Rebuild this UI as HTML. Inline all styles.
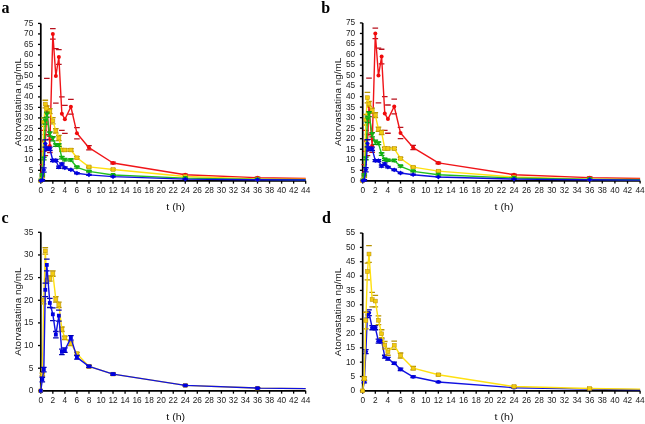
<!DOCTYPE html>
<html><head><meta charset="utf-8"><style>
html,body{margin:0;padding:0;background:#fff;}
svg{display:block;will-change:transform;}
</style></head><body>
<svg width="645" height="424" viewBox="0 0 645 424">
<rect width="645" height="424" fill="#fff"/>
<text x="1.5" y="12.7" font-family="Liberation Serif, serif" font-weight="bold" font-size="16" fill="#000">a</text>
<line x1="38" y1="180.85" x2="40.8" y2="180.85" stroke="#000" stroke-width="1.3"/>
<text x="33.3" y="183.25" text-anchor="end" font-family="Liberation Sans, sans-serif" font-size="8.3" fill="#222">0</text>
<line x1="38" y1="170.35" x2="40.8" y2="170.35" stroke="#000" stroke-width="1.3"/>
<text x="33.3" y="172.75" text-anchor="end" font-family="Liberation Sans, sans-serif" font-size="8.3" fill="#222">5</text>
<line x1="38" y1="159.86" x2="40.8" y2="159.86" stroke="#000" stroke-width="1.3"/>
<text x="33.3" y="162.26" text-anchor="end" font-family="Liberation Sans, sans-serif" font-size="8.3" fill="#222">10</text>
<line x1="38" y1="149.36" x2="40.8" y2="149.36" stroke="#000" stroke-width="1.3"/>
<text x="33.3" y="151.76" text-anchor="end" font-family="Liberation Sans, sans-serif" font-size="8.3" fill="#222">15</text>
<line x1="38" y1="138.87" x2="40.8" y2="138.87" stroke="#000" stroke-width="1.3"/>
<text x="33.3" y="141.27" text-anchor="end" font-family="Liberation Sans, sans-serif" font-size="8.3" fill="#222">20</text>
<line x1="38" y1="128.38" x2="40.8" y2="128.38" stroke="#000" stroke-width="1.3"/>
<text x="33.3" y="130.78" text-anchor="end" font-family="Liberation Sans, sans-serif" font-size="8.3" fill="#222">25</text>
<line x1="38" y1="117.88" x2="40.8" y2="117.88" stroke="#000" stroke-width="1.3"/>
<text x="33.3" y="120.28" text-anchor="end" font-family="Liberation Sans, sans-serif" font-size="8.3" fill="#222">30</text>
<line x1="38" y1="107.38" x2="40.8" y2="107.38" stroke="#000" stroke-width="1.3"/>
<text x="33.3" y="109.78" text-anchor="end" font-family="Liberation Sans, sans-serif" font-size="8.3" fill="#222">35</text>
<line x1="38" y1="96.89" x2="40.8" y2="96.89" stroke="#000" stroke-width="1.3"/>
<text x="33.3" y="99.29" text-anchor="end" font-family="Liberation Sans, sans-serif" font-size="8.3" fill="#222">40</text>
<line x1="38" y1="86.39" x2="40.8" y2="86.39" stroke="#000" stroke-width="1.3"/>
<text x="33.3" y="88.79" text-anchor="end" font-family="Liberation Sans, sans-serif" font-size="8.3" fill="#222">45</text>
<line x1="38" y1="75.9" x2="40.8" y2="75.9" stroke="#000" stroke-width="1.3"/>
<text x="33.3" y="78.3" text-anchor="end" font-family="Liberation Sans, sans-serif" font-size="8.3" fill="#222">50</text>
<line x1="38" y1="65.4" x2="40.8" y2="65.4" stroke="#000" stroke-width="1.3"/>
<text x="33.3" y="67.8" text-anchor="end" font-family="Liberation Sans, sans-serif" font-size="8.3" fill="#222">55</text>
<line x1="38" y1="54.91" x2="40.8" y2="54.91" stroke="#000" stroke-width="1.3"/>
<text x="33.3" y="57.31" text-anchor="end" font-family="Liberation Sans, sans-serif" font-size="8.3" fill="#222">60</text>
<line x1="38" y1="44.41" x2="40.8" y2="44.41" stroke="#000" stroke-width="1.3"/>
<text x="33.3" y="46.81" text-anchor="end" font-family="Liberation Sans, sans-serif" font-size="8.3" fill="#222">65</text>
<line x1="38" y1="33.92" x2="40.8" y2="33.92" stroke="#000" stroke-width="1.3"/>
<text x="33.3" y="36.32" text-anchor="end" font-family="Liberation Sans, sans-serif" font-size="8.3" fill="#222">70</text>
<line x1="38" y1="23.42" x2="40.8" y2="23.42" stroke="#000" stroke-width="1.3"/>
<text x="33.3" y="25.82" text-anchor="end" font-family="Liberation Sans, sans-serif" font-size="8.3" fill="#222">75</text>
<line x1="40.8" y1="180.85" x2="40.8" y2="183.65" stroke="#000" stroke-width="1.3"/>
<text x="40.8" y="193.35" text-anchor="middle" font-family="Liberation Sans, sans-serif" font-size="8.3" fill="#222">0</text>
<line x1="52.84" y1="180.85" x2="52.84" y2="183.65" stroke="#000" stroke-width="1.3"/>
<text x="52.84" y="193.35" text-anchor="middle" font-family="Liberation Sans, sans-serif" font-size="8.3" fill="#222">2</text>
<line x1="64.88" y1="180.85" x2="64.88" y2="183.65" stroke="#000" stroke-width="1.3"/>
<text x="64.88" y="193.35" text-anchor="middle" font-family="Liberation Sans, sans-serif" font-size="8.3" fill="#222">4</text>
<line x1="76.92" y1="180.85" x2="76.92" y2="183.65" stroke="#000" stroke-width="1.3"/>
<text x="76.92" y="193.35" text-anchor="middle" font-family="Liberation Sans, sans-serif" font-size="8.3" fill="#222">6</text>
<line x1="88.96" y1="180.85" x2="88.96" y2="183.65" stroke="#000" stroke-width="1.3"/>
<text x="88.96" y="193.35" text-anchor="middle" font-family="Liberation Sans, sans-serif" font-size="8.3" fill="#222">8</text>
<line x1="101" y1="180.85" x2="101" y2="183.65" stroke="#000" stroke-width="1.3"/>
<text x="101" y="193.35" text-anchor="middle" font-family="Liberation Sans, sans-serif" font-size="8.3" fill="#222">10</text>
<line x1="113.04" y1="180.85" x2="113.04" y2="183.65" stroke="#000" stroke-width="1.3"/>
<text x="113.04" y="193.35" text-anchor="middle" font-family="Liberation Sans, sans-serif" font-size="8.3" fill="#222">12</text>
<line x1="125.08" y1="180.85" x2="125.08" y2="183.65" stroke="#000" stroke-width="1.3"/>
<text x="125.08" y="193.35" text-anchor="middle" font-family="Liberation Sans, sans-serif" font-size="8.3" fill="#222">14</text>
<line x1="137.12" y1="180.85" x2="137.12" y2="183.65" stroke="#000" stroke-width="1.3"/>
<text x="137.12" y="193.35" text-anchor="middle" font-family="Liberation Sans, sans-serif" font-size="8.3" fill="#222">16</text>
<line x1="149.16" y1="180.85" x2="149.16" y2="183.65" stroke="#000" stroke-width="1.3"/>
<text x="149.16" y="193.35" text-anchor="middle" font-family="Liberation Sans, sans-serif" font-size="8.3" fill="#222">18</text>
<line x1="161.2" y1="180.85" x2="161.2" y2="183.65" stroke="#000" stroke-width="1.3"/>
<text x="161.2" y="193.35" text-anchor="middle" font-family="Liberation Sans, sans-serif" font-size="8.3" fill="#222">20</text>
<line x1="173.24" y1="180.85" x2="173.24" y2="183.65" stroke="#000" stroke-width="1.3"/>
<text x="173.24" y="193.35" text-anchor="middle" font-family="Liberation Sans, sans-serif" font-size="8.3" fill="#222">22</text>
<line x1="185.28" y1="180.85" x2="185.28" y2="183.65" stroke="#000" stroke-width="1.3"/>
<text x="185.28" y="193.35" text-anchor="middle" font-family="Liberation Sans, sans-serif" font-size="8.3" fill="#222">24</text>
<line x1="197.32" y1="180.85" x2="197.32" y2="183.65" stroke="#000" stroke-width="1.3"/>
<text x="197.32" y="193.35" text-anchor="middle" font-family="Liberation Sans, sans-serif" font-size="8.3" fill="#222">26</text>
<line x1="209.36" y1="180.85" x2="209.36" y2="183.65" stroke="#000" stroke-width="1.3"/>
<text x="209.36" y="193.35" text-anchor="middle" font-family="Liberation Sans, sans-serif" font-size="8.3" fill="#222">28</text>
<line x1="221.4" y1="180.85" x2="221.4" y2="183.65" stroke="#000" stroke-width="1.3"/>
<text x="221.4" y="193.35" text-anchor="middle" font-family="Liberation Sans, sans-serif" font-size="8.3" fill="#222">30</text>
<line x1="233.44" y1="180.85" x2="233.44" y2="183.65" stroke="#000" stroke-width="1.3"/>
<text x="233.44" y="193.35" text-anchor="middle" font-family="Liberation Sans, sans-serif" font-size="8.3" fill="#222">32</text>
<line x1="245.48" y1="180.85" x2="245.48" y2="183.65" stroke="#000" stroke-width="1.3"/>
<text x="245.48" y="193.35" text-anchor="middle" font-family="Liberation Sans, sans-serif" font-size="8.3" fill="#222">34</text>
<line x1="257.52" y1="180.85" x2="257.52" y2="183.65" stroke="#000" stroke-width="1.3"/>
<text x="257.52" y="193.35" text-anchor="middle" font-family="Liberation Sans, sans-serif" font-size="8.3" fill="#222">36</text>
<line x1="269.56" y1="180.85" x2="269.56" y2="183.65" stroke="#000" stroke-width="1.3"/>
<text x="269.56" y="193.35" text-anchor="middle" font-family="Liberation Sans, sans-serif" font-size="8.3" fill="#222">38</text>
<line x1="281.6" y1="180.85" x2="281.6" y2="183.65" stroke="#000" stroke-width="1.3"/>
<text x="281.6" y="193.35" text-anchor="middle" font-family="Liberation Sans, sans-serif" font-size="8.3" fill="#222">40</text>
<line x1="293.64" y1="180.85" x2="293.64" y2="183.65" stroke="#000" stroke-width="1.3"/>
<text x="293.64" y="193.35" text-anchor="middle" font-family="Liberation Sans, sans-serif" font-size="8.3" fill="#222">42</text>
<line x1="305.68" y1="180.85" x2="305.68" y2="183.65" stroke="#000" stroke-width="1.3"/>
<text x="305.68" y="193.35" text-anchor="middle" font-family="Liberation Sans, sans-serif" font-size="8.3" fill="#222">44</text>
<text transform="translate(20.5,102.14) rotate(-90)" text-anchor="middle" font-family="Liberation Sans, sans-serif" font-size="9.95" fill="#111">Atorvastatina ng/mL</text>
<text transform="translate(175.7,210.25) scale(1.14,1)" text-anchor="middle" font-family="Liberation Sans, sans-serif" font-size="9.3" fill="#111">t (h)</text>
<path d="M40.8 23.42V180.85H305.68" stroke="#000" stroke-width="1.7" fill="none"/>
<path d="M39.51 164.69H45.1M39.51 180.22H45.1" stroke="#b8101c" stroke-width="1.3" fill="none"/>
<path d="M41.01 130.47H46.61M41.01 151.46H46.61" stroke="#b8101c" stroke-width="1.3" fill="none"/>
<path d="M42.52 134.67H48.11M42.52 155.66H48.11" stroke="#b8101c" stroke-width="1.3" fill="none"/>
<path d="M44.02 78.42H49.62M44.02 134.67H49.62" stroke="#b8101c" stroke-width="1.3" fill="none"/>
<path d="M47.03 139.5H52.63M47.03 152.51H52.63" stroke="#b8101c" stroke-width="1.3" fill="none"/>
<path d="M50.04 28.67H55.64M50.04 39.17H55.64" stroke="#b8101c" stroke-width="1.3" fill="none"/>
<path d="M53.05 48.61H58.65M53.05 103.19H58.65" stroke="#b8101c" stroke-width="1.3" fill="none"/>
<path d="M56.06 49.66H61.66M56.06 64.36H61.66" stroke="#b8101c" stroke-width="1.3" fill="none"/>
<path d="M59.07 96.89H64.67M59.07 130.47H64.67" stroke="#b8101c" stroke-width="1.3" fill="none"/>
<path d="M62.08 105.29H67.68M62.08 133.41H67.68" stroke="#b8101c" stroke-width="1.3" fill="none"/>
<path d="M68.1 99.41H73.7M68.1 114.1H73.7" stroke="#b8101c" stroke-width="1.3" fill="none"/>
<path d="M74.12 127.54H79.72M74.12 138.87H79.72" stroke="#b8101c" stroke-width="1.3" fill="none"/>
<path d="M86.16 145.59H91.76M86.16 149.78H91.76" stroke="#b8101c" stroke-width="1.3" fill="none"/>
<path d="M110.24 162.17H115.84M110.24 163.85H115.84" stroke="#b8101c" stroke-width="1.3" fill="none"/>
<path d="M182.48 174.13H188.08M182.48 175.39H188.08" stroke="#b8101c" stroke-width="1.3" fill="none"/>
<path d="M254.72 177.07H260.32M254.72 178.33H260.32" stroke="#b8101c" stroke-width="1.3" fill="none"/>
<path d="M40.8 180.85 L42.3 172.45 L43.81 140.97 L45.31 145.17 L46.82 106.55 L49.83 146.01 L52.84 33.92 L55.85 75.9 L58.86 57.01 L61.87 113.68 L64.88 119.35 L70.9 106.76 L76.92 133.2 L88.96 147.69 L113.04 163.01 L185.28 174.76 L257.52 177.7 L305.68 178.54" stroke="#f01418" stroke-width="1.4" fill="none" stroke-linejoin="round"/>
<circle cx="40.8" cy="180.85" r="2.0" fill="#f00a0a"/>
<circle cx="42.3" cy="172.45" r="2.0" fill="#f00a0a"/>
<circle cx="43.81" cy="140.97" r="2.0" fill="#f00a0a"/>
<circle cx="45.31" cy="145.17" r="2.0" fill="#f00a0a"/>
<circle cx="46.82" cy="106.55" r="2.0" fill="#f00a0a"/>
<circle cx="49.83" cy="146.01" r="2.0" fill="#f00a0a"/>
<circle cx="52.84" cy="33.92" r="2.0" fill="#f00a0a"/>
<circle cx="55.85" cy="75.9" r="2.0" fill="#f00a0a"/>
<circle cx="58.86" cy="57.01" r="2.0" fill="#f00a0a"/>
<circle cx="61.87" cy="113.68" r="2.0" fill="#f00a0a"/>
<circle cx="64.88" cy="119.35" r="2.0" fill="#f00a0a"/>
<circle cx="70.9" cy="106.76" r="2.0" fill="#f00a0a"/>
<circle cx="76.92" cy="133.2" r="2.0" fill="#f00a0a"/>
<circle cx="88.96" cy="147.69" r="2.0" fill="#f00a0a"/>
<circle cx="113.04" cy="163.01" r="2.0" fill="#f00a0a"/>
<circle cx="185.28" cy="174.76" r="2.0" fill="#f00a0a"/>
<circle cx="257.52" cy="177.7" r="2.0" fill="#f00a0a"/>
<path d="M39.51 174.97H45.1M39.51 177.49H45.1" stroke="#b89400" stroke-width="1.3" fill="none"/>
<path d="M41.01 117.88H46.61M41.01 126.28H46.61" stroke="#b89400" stroke-width="1.3" fill="none"/>
<path d="M42.52 100.25H48.11M42.52 107.8H48.11" stroke="#b89400" stroke-width="1.3" fill="none"/>
<path d="M44.02 105.92H49.62M44.02 110.95H49.62" stroke="#b89400" stroke-width="1.3" fill="none"/>
<path d="M47.03 108.64H52.63M47.03 113.68H52.63" stroke="#b89400" stroke-width="1.3" fill="none"/>
<path d="M50.04 117.67H55.64M50.04 123.97H55.64" stroke="#b89400" stroke-width="1.3" fill="none"/>
<path d="M53.05 128.58H58.65M53.05 133.2H58.65" stroke="#b89400" stroke-width="1.3" fill="none"/>
<path d="M56.06 135.41H61.66M56.06 140.65H61.66" stroke="#b89400" stroke-width="1.3" fill="none"/>
<path d="M59.07 148.74H64.67M59.07 151.25H64.67" stroke="#b89400" stroke-width="1.3" fill="none"/>
<path d="M62.08 148.74H67.68M62.08 151.25H67.68" stroke="#b89400" stroke-width="1.3" fill="none"/>
<path d="M68.1 148.74H73.7M68.1 151.25H73.7" stroke="#b89400" stroke-width="1.3" fill="none"/>
<path d="M74.12 156.71H79.72M74.12 158.81H79.72" stroke="#b89400" stroke-width="1.3" fill="none"/>
<path d="M86.16 166.05H91.76M86.16 167.73H91.76" stroke="#b89400" stroke-width="1.3" fill="none"/>
<path d="M110.24 168.89H115.84M110.24 170.15H115.84" stroke="#b89400" stroke-width="1.3" fill="none"/>
<path d="M182.48 176.02H188.08M182.48 176.86H188.08" stroke="#b89400" stroke-width="1.3" fill="none"/>
<path d="M254.72 178.54H260.32M254.72 179.38H260.32" stroke="#b89400" stroke-width="1.3" fill="none"/>
<path d="M40.8 180.85 L42.3 176.23 L43.81 122.08 L45.31 104.03 L46.82 108.43 L49.83 111.16 L52.84 120.82 L55.85 130.89 L58.86 138.03 L61.87 149.99 L64.88 149.99 L70.9 149.99 L76.92 157.76 L88.96 166.89 L113.04 169.52 L185.28 176.44 L257.52 178.96 L305.68 179.17" stroke="#ffe010" stroke-width="1.4" fill="none" stroke-linejoin="round"/>
<rect x="38.8" y="178.95" width="4" height="3.8" fill="#f2cc10" stroke="#b88c00" stroke-width="0.5"/>
<rect x="40.3" y="174.33" width="4" height="3.8" fill="#f2cc10" stroke="#b88c00" stroke-width="0.5"/>
<rect x="41.81" y="120.18" width="4" height="3.8" fill="#f2cc10" stroke="#b88c00" stroke-width="0.5"/>
<rect x="43.31" y="102.13" width="4" height="3.8" fill="#f2cc10" stroke="#b88c00" stroke-width="0.5"/>
<rect x="44.82" y="106.53" width="4" height="3.8" fill="#f2cc10" stroke="#b88c00" stroke-width="0.5"/>
<rect x="47.83" y="109.26" width="4" height="3.8" fill="#f2cc10" stroke="#b88c00" stroke-width="0.5"/>
<rect x="50.84" y="118.92" width="4" height="3.8" fill="#f2cc10" stroke="#b88c00" stroke-width="0.5"/>
<rect x="53.85" y="128.99" width="4" height="3.8" fill="#f2cc10" stroke="#b88c00" stroke-width="0.5"/>
<rect x="56.86" y="136.13" width="4" height="3.8" fill="#f2cc10" stroke="#b88c00" stroke-width="0.5"/>
<rect x="59.87" y="148.09" width="4" height="3.8" fill="#f2cc10" stroke="#b88c00" stroke-width="0.5"/>
<rect x="62.88" y="148.09" width="4" height="3.8" fill="#f2cc10" stroke="#b88c00" stroke-width="0.5"/>
<rect x="68.9" y="148.09" width="4" height="3.8" fill="#f2cc10" stroke="#b88c00" stroke-width="0.5"/>
<rect x="74.92" y="155.86" width="4" height="3.8" fill="#f2cc10" stroke="#b88c00" stroke-width="0.5"/>
<rect x="86.96" y="164.99" width="4" height="3.8" fill="#f2cc10" stroke="#b88c00" stroke-width="0.5"/>
<rect x="111.04" y="167.62" width="4" height="3.8" fill="#f2cc10" stroke="#b88c00" stroke-width="0.5"/>
<rect x="183.28" y="174.54" width="4" height="3.8" fill="#f2cc10" stroke="#b88c00" stroke-width="0.5"/>
<rect x="255.52" y="177.06" width="4" height="3.8" fill="#f2cc10" stroke="#b88c00" stroke-width="0.5"/>
<path d="M39.51 173.92H45.1M39.51 176.02H45.1" stroke="#109010" stroke-width="1.3" fill="none"/>
<path d="M41.01 157.34H46.61M41.01 159.86H46.61" stroke="#109010" stroke-width="1.3" fill="none"/>
<path d="M42.52 117.88H48.11M42.52 124.18H48.11" stroke="#109010" stroke-width="1.3" fill="none"/>
<path d="M44.02 112.21H49.62M44.02 117.25H49.62" stroke="#109010" stroke-width="1.3" fill="none"/>
<path d="M47.03 131.94H52.63M47.03 136.14H52.63" stroke="#109010" stroke-width="1.3" fill="none"/>
<path d="M50.04 136.77H55.64M50.04 140.97H55.64" stroke="#109010" stroke-width="1.3" fill="none"/>
<path d="M53.05 143.91H58.65M53.05 146.43H58.65" stroke="#109010" stroke-width="1.3" fill="none"/>
<path d="M56.06 143.91H61.66M56.06 146.43H61.66" stroke="#109010" stroke-width="1.3" fill="none"/>
<path d="M59.07 156.71H64.67M59.07 158.81H64.67" stroke="#109010" stroke-width="1.3" fill="none"/>
<path d="M62.08 158.81H67.68M62.08 160.91H67.68" stroke="#109010" stroke-width="1.3" fill="none"/>
<path d="M68.1 159.02H73.7M68.1 161.12H73.7" stroke="#109010" stroke-width="1.3" fill="none"/>
<path d="M74.12 166.47H79.72M74.12 168.15H79.72" stroke="#109010" stroke-width="1.3" fill="none"/>
<path d="M86.16 170.77H91.76M86.16 172.03H91.76" stroke="#109010" stroke-width="1.3" fill="none"/>
<path d="M110.24 174.55H115.84M110.24 175.39H115.84" stroke="#109010" stroke-width="1.3" fill="none"/>
<path d="M182.48 177.91H188.08M182.48 178.33H188.08" stroke="#109010" stroke-width="1.3" fill="none"/>
<path d="M254.72 179.17H260.32M254.72 179.59H260.32" stroke="#109010" stroke-width="1.3" fill="none"/>
<path d="M40.8 180.85 L42.3 174.97 L43.81 158.6 L45.31 121.03 L46.82 114.73 L49.83 134.04 L52.84 138.87 L55.85 145.17 L58.86 145.17 L61.87 157.76 L64.88 159.86 L70.9 160.07 L76.92 167.31 L88.96 171.4 L113.04 174.97 L185.28 178.12 L257.52 179.38 L305.68 179.8" stroke="#20c020" stroke-width="1.4" fill="none" stroke-linejoin="round"/>
<path d="M38.2 178.85H43.4L40.8 183.25Z" fill="#10b010"/>
<path d="M39.7 172.97H44.91L42.3 177.37Z" fill="#10b010"/>
<path d="M41.21 156.6H46.41L43.81 161Z" fill="#10b010"/>
<path d="M42.71 119.03H47.91L45.31 123.43Z" fill="#10b010"/>
<path d="M44.22 112.73H49.42L46.82 117.13Z" fill="#10b010"/>
<path d="M47.23 132.04H52.43L49.83 136.44Z" fill="#10b010"/>
<path d="M50.24 136.87H55.44L52.84 141.27Z" fill="#10b010"/>
<path d="M53.25 143.17H58.45L55.85 147.57Z" fill="#10b010"/>
<path d="M56.26 143.17H61.46L58.86 147.57Z" fill="#10b010"/>
<path d="M59.27 155.76H64.47L61.87 160.16Z" fill="#10b010"/>
<path d="M62.28 157.86H67.48L64.88 162.26Z" fill="#10b010"/>
<path d="M68.3 158.07H73.5L70.9 162.47Z" fill="#10b010"/>
<path d="M74.32 165.31H79.52L76.92 169.71Z" fill="#10b010"/>
<path d="M86.36 169.4H91.56L88.96 173.8Z" fill="#10b010"/>
<path d="M110.44 172.97H115.64L113.04 177.37Z" fill="#10b010"/>
<path d="M182.68 176.12H187.88L185.28 180.52Z" fill="#10b010"/>
<path d="M254.92 177.38H260.12L257.52 181.78Z" fill="#10b010"/>
<path d="M39.51 179.59H45.1M39.51 180.85H45.1" stroke="#0000b0" stroke-width="1.3" fill="none"/>
<path d="M41.01 167.84H46.61M41.01 172.03H46.61" stroke="#0000b0" stroke-width="1.3" fill="none"/>
<path d="M42.52 139.92H48.11M42.52 147.06H48.11" stroke="#0000b0" stroke-width="1.3" fill="none"/>
<path d="M44.02 147.06H49.62M44.02 150.41H49.62" stroke="#0000b0" stroke-width="1.3" fill="none"/>
<path d="M47.03 147.06H52.63M47.03 150.41H52.63" stroke="#0000b0" stroke-width="1.3" fill="none"/>
<path d="M50.04 159.44H55.64M50.04 161.54H55.64" stroke="#0000b0" stroke-width="1.3" fill="none"/>
<path d="M53.05 159.44H58.65M53.05 161.54H58.65" stroke="#0000b0" stroke-width="1.3" fill="none"/>
<path d="M56.06 166.16H61.66M56.06 168.26H61.66" stroke="#0000b0" stroke-width="1.3" fill="none"/>
<path d="M59.07 163.01H64.67M59.07 165.11H64.67" stroke="#0000b0" stroke-width="1.3" fill="none"/>
<path d="M62.08 167H67.68M62.08 168.68H67.68" stroke="#0000b0" stroke-width="1.3" fill="none"/>
<path d="M68.1 169.1H73.7M68.1 170.35H73.7" stroke="#0000b0" stroke-width="1.3" fill="none"/>
<path d="M74.12 172.56H79.72M74.12 173.82H79.72" stroke="#0000b0" stroke-width="1.3" fill="none"/>
<path d="M86.16 174.45H91.76M86.16 175.29H91.76" stroke="#0000b0" stroke-width="1.3" fill="none"/>
<path d="M110.24 176.44H115.84M110.24 176.86H115.84" stroke="#0000b0" stroke-width="1.3" fill="none"/>
<path d="M182.48 178.96H188.08M182.48 179.38H188.08" stroke="#0000b0" stroke-width="1.3" fill="none"/>
<path d="M254.72 179.49H260.32M254.72 179.91H260.32" stroke="#0000b0" stroke-width="1.3" fill="none"/>
<path d="M40.8 180.85 L42.3 180.22 L43.81 169.94 L45.31 143.49 L46.82 148.74 L49.83 148.74 L52.84 160.49 L55.85 160.49 L58.86 167.21 L61.87 164.06 L64.88 167.84 L70.9 169.73 L76.92 173.19 L88.96 174.87 L113.04 176.65 L185.28 179.17 L257.52 179.7 L305.68 180.01" stroke="#1010e0" stroke-width="1.4" fill="none" stroke-linejoin="round"/>
<path d="M40.8 178.45L43.2 180.85L40.8 183.25L38.4 180.85Z" fill="#0000e0"/>
<path d="M42.3 177.82L44.7 180.22L42.3 182.62L39.91 180.22Z" fill="#0000e0"/>
<path d="M43.81 167.54L46.21 169.94L43.81 172.34L41.41 169.94Z" fill="#0000e0"/>
<path d="M45.31 141.09L47.71 143.49L45.31 145.89L42.91 143.49Z" fill="#0000e0"/>
<path d="M46.82 146.34L49.22 148.74L46.82 151.14L44.42 148.74Z" fill="#0000e0"/>
<path d="M49.83 146.34L52.23 148.74L49.83 151.14L47.43 148.74Z" fill="#0000e0"/>
<path d="M52.84 158.09L55.24 160.49L52.84 162.89L50.44 160.49Z" fill="#0000e0"/>
<path d="M55.85 158.09L58.25 160.49L55.85 162.89L53.45 160.49Z" fill="#0000e0"/>
<path d="M58.86 164.81L61.26 167.21L58.86 169.61L56.46 167.21Z" fill="#0000e0"/>
<path d="M61.87 161.66L64.27 164.06L61.87 166.46L59.47 164.06Z" fill="#0000e0"/>
<path d="M64.88 165.44L67.28 167.84L64.88 170.24L62.48 167.84Z" fill="#0000e0"/>
<path d="M70.9 167.33L73.3 169.73L70.9 172.13L68.5 169.73Z" fill="#0000e0"/>
<path d="M76.92 170.79L79.32 173.19L76.92 175.59L74.52 173.19Z" fill="#0000e0"/>
<path d="M88.96 172.47L91.36 174.87L88.96 177.27L86.56 174.87Z" fill="#0000e0"/>
<path d="M113.04 174.25L115.44 176.65L113.04 179.05L110.64 176.65Z" fill="#0000e0"/>
<path d="M185.28 176.77L187.68 179.17L185.28 181.57L182.88 179.17Z" fill="#0000e0"/>
<path d="M257.52 177.3L259.92 179.7L257.52 182.1L255.12 179.7Z" fill="#0000e0"/>
<text x="321.3" y="12.9" font-family="Liberation Serif, serif" font-weight="bold" font-size="16" fill="#000">b</text>
<line x1="359.9" y1="180.8" x2="362.7" y2="180.8" stroke="#000" stroke-width="1.3"/>
<text x="355.2" y="183.2" text-anchor="end" font-family="Liberation Sans, sans-serif" font-size="8.3" fill="#222">0</text>
<line x1="359.9" y1="170.28" x2="362.7" y2="170.28" stroke="#000" stroke-width="1.3"/>
<text x="355.2" y="172.68" text-anchor="end" font-family="Liberation Sans, sans-serif" font-size="8.3" fill="#222">5</text>
<line x1="359.9" y1="159.75" x2="362.7" y2="159.75" stroke="#000" stroke-width="1.3"/>
<text x="355.2" y="162.15" text-anchor="end" font-family="Liberation Sans, sans-serif" font-size="8.3" fill="#222">10</text>
<line x1="359.9" y1="149.23" x2="362.7" y2="149.23" stroke="#000" stroke-width="1.3"/>
<text x="355.2" y="151.63" text-anchor="end" font-family="Liberation Sans, sans-serif" font-size="8.3" fill="#222">15</text>
<line x1="359.9" y1="138.7" x2="362.7" y2="138.7" stroke="#000" stroke-width="1.3"/>
<text x="355.2" y="141.1" text-anchor="end" font-family="Liberation Sans, sans-serif" font-size="8.3" fill="#222">20</text>
<line x1="359.9" y1="128.18" x2="362.7" y2="128.18" stroke="#000" stroke-width="1.3"/>
<text x="355.2" y="130.58" text-anchor="end" font-family="Liberation Sans, sans-serif" font-size="8.3" fill="#222">25</text>
<line x1="359.9" y1="117.65" x2="362.7" y2="117.65" stroke="#000" stroke-width="1.3"/>
<text x="355.2" y="120.05" text-anchor="end" font-family="Liberation Sans, sans-serif" font-size="8.3" fill="#222">30</text>
<line x1="359.9" y1="107.13" x2="362.7" y2="107.13" stroke="#000" stroke-width="1.3"/>
<text x="355.2" y="109.53" text-anchor="end" font-family="Liberation Sans, sans-serif" font-size="8.3" fill="#222">35</text>
<line x1="359.9" y1="96.6" x2="362.7" y2="96.6" stroke="#000" stroke-width="1.3"/>
<text x="355.2" y="99" text-anchor="end" font-family="Liberation Sans, sans-serif" font-size="8.3" fill="#222">40</text>
<line x1="359.9" y1="86.08" x2="362.7" y2="86.08" stroke="#000" stroke-width="1.3"/>
<text x="355.2" y="88.48" text-anchor="end" font-family="Liberation Sans, sans-serif" font-size="8.3" fill="#222">45</text>
<line x1="359.9" y1="75.55" x2="362.7" y2="75.55" stroke="#000" stroke-width="1.3"/>
<text x="355.2" y="77.95" text-anchor="end" font-family="Liberation Sans, sans-serif" font-size="8.3" fill="#222">50</text>
<line x1="359.9" y1="65.03" x2="362.7" y2="65.03" stroke="#000" stroke-width="1.3"/>
<text x="355.2" y="67.43" text-anchor="end" font-family="Liberation Sans, sans-serif" font-size="8.3" fill="#222">55</text>
<line x1="359.9" y1="54.5" x2="362.7" y2="54.5" stroke="#000" stroke-width="1.3"/>
<text x="355.2" y="56.9" text-anchor="end" font-family="Liberation Sans, sans-serif" font-size="8.3" fill="#222">60</text>
<line x1="359.9" y1="43.98" x2="362.7" y2="43.98" stroke="#000" stroke-width="1.3"/>
<text x="355.2" y="46.38" text-anchor="end" font-family="Liberation Sans, sans-serif" font-size="8.3" fill="#222">65</text>
<line x1="359.9" y1="33.45" x2="362.7" y2="33.45" stroke="#000" stroke-width="1.3"/>
<text x="355.2" y="35.85" text-anchor="end" font-family="Liberation Sans, sans-serif" font-size="8.3" fill="#222">70</text>
<line x1="359.9" y1="22.93" x2="362.7" y2="22.93" stroke="#000" stroke-width="1.3"/>
<text x="355.2" y="25.33" text-anchor="end" font-family="Liberation Sans, sans-serif" font-size="8.3" fill="#222">75</text>
<line x1="362.7" y1="180.8" x2="362.7" y2="183.6" stroke="#000" stroke-width="1.3"/>
<text x="362.7" y="193.3" text-anchor="middle" font-family="Liberation Sans, sans-serif" font-size="8.3" fill="#222">0</text>
<line x1="375.31" y1="180.8" x2="375.31" y2="183.6" stroke="#000" stroke-width="1.3"/>
<text x="375.31" y="193.3" text-anchor="middle" font-family="Liberation Sans, sans-serif" font-size="8.3" fill="#222">2</text>
<line x1="387.92" y1="180.8" x2="387.92" y2="183.6" stroke="#000" stroke-width="1.3"/>
<text x="387.92" y="193.3" text-anchor="middle" font-family="Liberation Sans, sans-serif" font-size="8.3" fill="#222">4</text>
<line x1="400.53" y1="180.8" x2="400.53" y2="183.6" stroke="#000" stroke-width="1.3"/>
<text x="400.53" y="193.3" text-anchor="middle" font-family="Liberation Sans, sans-serif" font-size="8.3" fill="#222">6</text>
<line x1="413.14" y1="180.8" x2="413.14" y2="183.6" stroke="#000" stroke-width="1.3"/>
<text x="413.14" y="193.3" text-anchor="middle" font-family="Liberation Sans, sans-serif" font-size="8.3" fill="#222">8</text>
<line x1="425.75" y1="180.8" x2="425.75" y2="183.6" stroke="#000" stroke-width="1.3"/>
<text x="425.75" y="193.3" text-anchor="middle" font-family="Liberation Sans, sans-serif" font-size="8.3" fill="#222">10</text>
<line x1="438.36" y1="180.8" x2="438.36" y2="183.6" stroke="#000" stroke-width="1.3"/>
<text x="438.36" y="193.3" text-anchor="middle" font-family="Liberation Sans, sans-serif" font-size="8.3" fill="#222">12</text>
<line x1="450.97" y1="180.8" x2="450.97" y2="183.6" stroke="#000" stroke-width="1.3"/>
<text x="450.97" y="193.3" text-anchor="middle" font-family="Liberation Sans, sans-serif" font-size="8.3" fill="#222">14</text>
<line x1="463.58" y1="180.8" x2="463.58" y2="183.6" stroke="#000" stroke-width="1.3"/>
<text x="463.58" y="193.3" text-anchor="middle" font-family="Liberation Sans, sans-serif" font-size="8.3" fill="#222">16</text>
<line x1="476.19" y1="180.8" x2="476.19" y2="183.6" stroke="#000" stroke-width="1.3"/>
<text x="476.19" y="193.3" text-anchor="middle" font-family="Liberation Sans, sans-serif" font-size="8.3" fill="#222">18</text>
<line x1="488.8" y1="180.8" x2="488.8" y2="183.6" stroke="#000" stroke-width="1.3"/>
<text x="488.8" y="193.3" text-anchor="middle" font-family="Liberation Sans, sans-serif" font-size="8.3" fill="#222">20</text>
<line x1="501.41" y1="180.8" x2="501.41" y2="183.6" stroke="#000" stroke-width="1.3"/>
<text x="501.41" y="193.3" text-anchor="middle" font-family="Liberation Sans, sans-serif" font-size="8.3" fill="#222">22</text>
<line x1="514.02" y1="180.8" x2="514.02" y2="183.6" stroke="#000" stroke-width="1.3"/>
<text x="514.02" y="193.3" text-anchor="middle" font-family="Liberation Sans, sans-serif" font-size="8.3" fill="#222">24</text>
<line x1="526.63" y1="180.8" x2="526.63" y2="183.6" stroke="#000" stroke-width="1.3"/>
<text x="526.63" y="193.3" text-anchor="middle" font-family="Liberation Sans, sans-serif" font-size="8.3" fill="#222">26</text>
<line x1="539.24" y1="180.8" x2="539.24" y2="183.6" stroke="#000" stroke-width="1.3"/>
<text x="539.24" y="193.3" text-anchor="middle" font-family="Liberation Sans, sans-serif" font-size="8.3" fill="#222">28</text>
<line x1="551.85" y1="180.8" x2="551.85" y2="183.6" stroke="#000" stroke-width="1.3"/>
<text x="551.85" y="193.3" text-anchor="middle" font-family="Liberation Sans, sans-serif" font-size="8.3" fill="#222">30</text>
<line x1="564.46" y1="180.8" x2="564.46" y2="183.6" stroke="#000" stroke-width="1.3"/>
<text x="564.46" y="193.3" text-anchor="middle" font-family="Liberation Sans, sans-serif" font-size="8.3" fill="#222">32</text>
<line x1="577.07" y1="180.8" x2="577.07" y2="183.6" stroke="#000" stroke-width="1.3"/>
<text x="577.07" y="193.3" text-anchor="middle" font-family="Liberation Sans, sans-serif" font-size="8.3" fill="#222">34</text>
<line x1="589.68" y1="180.8" x2="589.68" y2="183.6" stroke="#000" stroke-width="1.3"/>
<text x="589.68" y="193.3" text-anchor="middle" font-family="Liberation Sans, sans-serif" font-size="8.3" fill="#222">36</text>
<line x1="602.29" y1="180.8" x2="602.29" y2="183.6" stroke="#000" stroke-width="1.3"/>
<text x="602.29" y="193.3" text-anchor="middle" font-family="Liberation Sans, sans-serif" font-size="8.3" fill="#222">38</text>
<line x1="614.9" y1="180.8" x2="614.9" y2="183.6" stroke="#000" stroke-width="1.3"/>
<text x="614.9" y="193.3" text-anchor="middle" font-family="Liberation Sans, sans-serif" font-size="8.3" fill="#222">40</text>
<line x1="627.51" y1="180.8" x2="627.51" y2="183.6" stroke="#000" stroke-width="1.3"/>
<text x="627.51" y="193.3" text-anchor="middle" font-family="Liberation Sans, sans-serif" font-size="8.3" fill="#222">42</text>
<line x1="640.12" y1="180.8" x2="640.12" y2="183.6" stroke="#000" stroke-width="1.3"/>
<text x="640.12" y="193.3" text-anchor="middle" font-family="Liberation Sans, sans-serif" font-size="8.3" fill="#222">44</text>
<text transform="translate(341.3,101.86) rotate(-90)" text-anchor="middle" font-family="Liberation Sans, sans-serif" font-size="9.95" fill="#111">Atorvastatina ng/mL</text>
<text transform="translate(504,210.2) scale(1.14,1)" text-anchor="middle" font-family="Liberation Sans, sans-serif" font-size="9.3" fill="#111">t (h)</text>
<path d="M362.7 22.93V180.8H640.12" stroke="#000" stroke-width="1.7" fill="none"/>
<path d="M361.48 164.59H367.08M361.48 180.17H367.08" stroke="#b8101c" stroke-width="1.3" fill="none"/>
<path d="M363.05 130.28H368.65M363.05 151.33H368.65" stroke="#b8101c" stroke-width="1.3" fill="none"/>
<path d="M364.63 134.49H370.23M364.63 155.54H370.23" stroke="#b8101c" stroke-width="1.3" fill="none"/>
<path d="M366.2 78.08H371.81M366.2 134.49H371.81" stroke="#b8101c" stroke-width="1.3" fill="none"/>
<path d="M369.36 139.33H374.96M369.36 152.38H374.96" stroke="#b8101c" stroke-width="1.3" fill="none"/>
<path d="M372.51 28.19H378.11M372.51 38.71H378.11" stroke="#b8101c" stroke-width="1.3" fill="none"/>
<path d="M375.66 48.19H381.26M375.66 102.92H381.26" stroke="#b8101c" stroke-width="1.3" fill="none"/>
<path d="M378.81 49.24H384.42M378.81 63.97H384.42" stroke="#b8101c" stroke-width="1.3" fill="none"/>
<path d="M381.97 96.6H387.57M381.97 130.28H387.57" stroke="#b8101c" stroke-width="1.3" fill="none"/>
<path d="M385.12 105.02H390.72M385.12 133.23H390.72" stroke="#b8101c" stroke-width="1.3" fill="none"/>
<path d="M391.42 99.13H397.02M391.42 113.86H397.02" stroke="#b8101c" stroke-width="1.3" fill="none"/>
<path d="M397.73 127.33H403.33M397.73 138.7H403.33" stroke="#b8101c" stroke-width="1.3" fill="none"/>
<path d="M410.34 145.44H415.94M410.34 149.65H415.94" stroke="#b8101c" stroke-width="1.3" fill="none"/>
<path d="M435.56 162.07H441.16M435.56 163.75H441.16" stroke="#b8101c" stroke-width="1.3" fill="none"/>
<path d="M511.22 174.06H516.82M511.22 175.33H516.82" stroke="#b8101c" stroke-width="1.3" fill="none"/>
<path d="M586.88 177.01H592.48M586.88 178.27H592.48" stroke="#b8101c" stroke-width="1.3" fill="none"/>
<path d="M362.7 180.8 L364.28 172.38 L365.85 140.81 L367.43 145.02 L369 106.28 L372.16 145.86 L375.31 33.45 L378.46 75.55 L381.62 56.61 L384.77 113.44 L387.92 119.12 L394.22 106.49 L400.53 133.02 L413.14 147.54 L438.36 162.91 L514.02 174.7 L589.68 177.64 L640.12 178.48" stroke="#f01418" stroke-width="1.4" fill="none" stroke-linejoin="round"/>
<circle cx="362.7" cy="180.8" r="2.0" fill="#f00a0a"/>
<circle cx="364.28" cy="172.38" r="2.0" fill="#f00a0a"/>
<circle cx="365.85" cy="140.81" r="2.0" fill="#f00a0a"/>
<circle cx="367.43" cy="145.02" r="2.0" fill="#f00a0a"/>
<circle cx="369" cy="106.28" r="2.0" fill="#f00a0a"/>
<circle cx="372.16" cy="145.86" r="2.0" fill="#f00a0a"/>
<circle cx="375.31" cy="33.45" r="2.0" fill="#f00a0a"/>
<circle cx="378.46" cy="75.55" r="2.0" fill="#f00a0a"/>
<circle cx="381.62" cy="56.61" r="2.0" fill="#f00a0a"/>
<circle cx="384.77" cy="113.44" r="2.0" fill="#f00a0a"/>
<circle cx="387.92" cy="119.12" r="2.0" fill="#f00a0a"/>
<circle cx="394.22" cy="106.49" r="2.0" fill="#f00a0a"/>
<circle cx="400.53" cy="133.02" r="2.0" fill="#f00a0a"/>
<circle cx="413.14" cy="147.54" r="2.0" fill="#f00a0a"/>
<circle cx="438.36" cy="162.91" r="2.0" fill="#f00a0a"/>
<circle cx="514.02" cy="174.7" r="2.0" fill="#f00a0a"/>
<circle cx="589.68" cy="177.64" r="2.0" fill="#f00a0a"/>
<path d="M361.48 174.91H367.08M361.48 177.43H367.08" stroke="#b89400" stroke-width="1.3" fill="none"/>
<path d="M363.05 114.49H368.65M363.05 125.02H368.65" stroke="#b89400" stroke-width="1.3" fill="none"/>
<path d="M364.63 92.39H370.23M364.63 102.92H370.23" stroke="#b89400" stroke-width="1.3" fill="none"/>
<path d="M366.2 101.44H371.81M366.2 106.49H371.81" stroke="#b89400" stroke-width="1.3" fill="none"/>
<path d="M369.36 108.18H374.96M369.36 113.23H374.96" stroke="#b89400" stroke-width="1.3" fill="none"/>
<path d="M372.51 112.6H378.11M372.51 117.65H378.11" stroke="#b89400" stroke-width="1.3" fill="none"/>
<path d="M375.66 127.12H381.26M375.66 131.33H381.26" stroke="#b89400" stroke-width="1.3" fill="none"/>
<path d="M378.81 130.28H384.42M378.81 134.49H384.42" stroke="#b89400" stroke-width="1.3" fill="none"/>
<path d="M381.97 147.33H387.57M381.97 149.86H387.57" stroke="#b89400" stroke-width="1.3" fill="none"/>
<path d="M385.12 147.33H390.72M385.12 149.86H390.72" stroke="#b89400" stroke-width="1.3" fill="none"/>
<path d="M391.42 147.33H397.02M391.42 149.86H397.02" stroke="#b89400" stroke-width="1.3" fill="none"/>
<path d="M397.73 157.43H403.33M397.73 159.54H403.33" stroke="#b89400" stroke-width="1.3" fill="none"/>
<path d="M410.34 166.28H415.94M410.34 167.96H415.94" stroke="#b89400" stroke-width="1.3" fill="none"/>
<path d="M435.56 170.49H441.16M435.56 171.75H441.16" stroke="#b89400" stroke-width="1.3" fill="none"/>
<path d="M511.22 176.59H516.82M511.22 177.43H516.82" stroke="#b89400" stroke-width="1.3" fill="none"/>
<path d="M586.88 178.7H592.48M586.88 179.54H592.48" stroke="#b89400" stroke-width="1.3" fill="none"/>
<path d="M362.7 180.8 L364.28 176.17 L365.85 119.76 L367.43 97.65 L369 103.97 L372.16 110.7 L375.31 115.12 L378.46 129.23 L381.62 132.39 L384.77 148.59 L387.92 148.59 L394.22 148.59 L400.53 158.49 L413.14 167.12 L438.36 171.12 L514.02 177.01 L589.68 179.12 L640.12 179.54" stroke="#ffe010" stroke-width="1.4" fill="none" stroke-linejoin="round"/>
<rect x="360.7" y="178.9" width="4" height="3.8" fill="#f2cc10" stroke="#b88c00" stroke-width="0.5"/>
<rect x="362.28" y="174.27" width="4" height="3.8" fill="#f2cc10" stroke="#b88c00" stroke-width="0.5"/>
<rect x="363.85" y="117.86" width="4" height="3.8" fill="#f2cc10" stroke="#b88c00" stroke-width="0.5"/>
<rect x="365.43" y="95.75" width="4" height="3.8" fill="#f2cc10" stroke="#b88c00" stroke-width="0.5"/>
<rect x="367" y="102.07" width="4" height="3.8" fill="#f2cc10" stroke="#b88c00" stroke-width="0.5"/>
<rect x="370.16" y="108.8" width="4" height="3.8" fill="#f2cc10" stroke="#b88c00" stroke-width="0.5"/>
<rect x="373.31" y="113.22" width="4" height="3.8" fill="#f2cc10" stroke="#b88c00" stroke-width="0.5"/>
<rect x="376.46" y="127.33" width="4" height="3.8" fill="#f2cc10" stroke="#b88c00" stroke-width="0.5"/>
<rect x="379.62" y="130.49" width="4" height="3.8" fill="#f2cc10" stroke="#b88c00" stroke-width="0.5"/>
<rect x="382.77" y="146.69" width="4" height="3.8" fill="#f2cc10" stroke="#b88c00" stroke-width="0.5"/>
<rect x="385.92" y="146.69" width="4" height="3.8" fill="#f2cc10" stroke="#b88c00" stroke-width="0.5"/>
<rect x="392.22" y="146.69" width="4" height="3.8" fill="#f2cc10" stroke="#b88c00" stroke-width="0.5"/>
<rect x="398.53" y="156.59" width="4" height="3.8" fill="#f2cc10" stroke="#b88c00" stroke-width="0.5"/>
<rect x="411.14" y="165.22" width="4" height="3.8" fill="#f2cc10" stroke="#b88c00" stroke-width="0.5"/>
<rect x="436.36" y="169.22" width="4" height="3.8" fill="#f2cc10" stroke="#b88c00" stroke-width="0.5"/>
<rect x="512.02" y="175.11" width="4" height="3.8" fill="#f2cc10" stroke="#b88c00" stroke-width="0.5"/>
<rect x="587.68" y="177.22" width="4" height="3.8" fill="#f2cc10" stroke="#b88c00" stroke-width="0.5"/>
<path d="M361.48 173.85H367.08M361.48 175.96H367.08" stroke="#109010" stroke-width="1.3" fill="none"/>
<path d="M363.05 157.22H368.65M363.05 159.75H368.65" stroke="#109010" stroke-width="1.3" fill="none"/>
<path d="M364.63 116.18H370.23M364.63 122.49H370.23" stroke="#109010" stroke-width="1.3" fill="none"/>
<path d="M366.2 111.55H371.81M366.2 116.6H371.81" stroke="#109010" stroke-width="1.3" fill="none"/>
<path d="M369.36 132.6H374.96M369.36 136.81H374.96" stroke="#109010" stroke-width="1.3" fill="none"/>
<path d="M372.51 140.17H378.11M372.51 144.38H378.11" stroke="#109010" stroke-width="1.3" fill="none"/>
<path d="M375.66 142.07H381.26M375.66 144.59H381.26" stroke="#109010" stroke-width="1.3" fill="none"/>
<path d="M378.81 152.8H384.42M378.81 155.33H384.42" stroke="#109010" stroke-width="1.3" fill="none"/>
<path d="M381.97 158.49H387.57M381.97 160.59H387.57" stroke="#109010" stroke-width="1.3" fill="none"/>
<path d="M385.12 159.33H390.72M385.12 161.43H390.72" stroke="#109010" stroke-width="1.3" fill="none"/>
<path d="M391.42 159.54H397.02M391.42 161.64H397.02" stroke="#109010" stroke-width="1.3" fill="none"/>
<path d="M397.73 165.43H403.33M397.73 167.12H403.33" stroke="#109010" stroke-width="1.3" fill="none"/>
<path d="M410.34 170.7H415.94M410.34 171.96H415.94" stroke="#109010" stroke-width="1.3" fill="none"/>
<path d="M435.56 174.27H441.16M435.56 175.12H441.16" stroke="#109010" stroke-width="1.3" fill="none"/>
<path d="M511.22 177.85H516.82M511.22 178.27H516.82" stroke="#109010" stroke-width="1.3" fill="none"/>
<path d="M586.88 179.12H592.48M586.88 179.54H592.48" stroke="#109010" stroke-width="1.3" fill="none"/>
<path d="M362.7 180.8 L364.28 174.91 L365.85 158.49 L367.43 119.33 L369 114.07 L372.16 134.7 L375.31 142.28 L378.46 143.33 L381.62 154.07 L384.77 159.54 L387.92 160.38 L394.22 160.59 L400.53 166.28 L413.14 171.33 L438.36 174.7 L514.02 178.06 L589.68 179.33 L640.12 179.75" stroke="#20c020" stroke-width="1.4" fill="none" stroke-linejoin="round"/>
<path d="M360.1 178.8H365.3L362.7 183.2Z" fill="#10b010"/>
<path d="M361.68 172.91H366.88L364.28 177.31Z" fill="#10b010"/>
<path d="M363.25 156.49H368.45L365.85 160.89Z" fill="#10b010"/>
<path d="M364.83 117.33H370.03L367.43 121.73Z" fill="#10b010"/>
<path d="M366.4 112.07H371.61L369 116.47Z" fill="#10b010"/>
<path d="M369.56 132.7H374.76L372.16 137.1Z" fill="#10b010"/>
<path d="M372.71 140.28H377.91L375.31 144.68Z" fill="#10b010"/>
<path d="M375.86 141.33H381.06L378.46 145.73Z" fill="#10b010"/>
<path d="M379.01 152.07H384.22L381.62 156.47Z" fill="#10b010"/>
<path d="M382.17 157.54H387.37L384.77 161.94Z" fill="#10b010"/>
<path d="M385.32 158.38H390.52L387.92 162.78Z" fill="#10b010"/>
<path d="M391.62 158.59H396.82L394.22 162.99Z" fill="#10b010"/>
<path d="M397.93 164.28H403.13L400.53 168.68Z" fill="#10b010"/>
<path d="M410.54 169.33H415.74L413.14 173.73Z" fill="#10b010"/>
<path d="M435.76 172.7H440.96L438.36 177.1Z" fill="#10b010"/>
<path d="M511.42 176.06H516.62L514.02 180.46Z" fill="#10b010"/>
<path d="M587.08 177.33H592.28L589.68 181.73Z" fill="#10b010"/>
<path d="M361.48 179.54H367.08M361.48 180.8H367.08" stroke="#0000b0" stroke-width="1.3" fill="none"/>
<path d="M363.05 167.75H368.65M363.05 171.96H368.65" stroke="#0000b0" stroke-width="1.3" fill="none"/>
<path d="M364.63 139.75H370.23M364.63 146.91H370.23" stroke="#0000b0" stroke-width="1.3" fill="none"/>
<path d="M366.2 147.12H371.81M366.2 150.49H371.81" stroke="#0000b0" stroke-width="1.3" fill="none"/>
<path d="M369.36 147.12H374.96M369.36 150.49H374.96" stroke="#0000b0" stroke-width="1.3" fill="none"/>
<path d="M372.51 159.54H378.11M372.51 161.64H378.11" stroke="#0000b0" stroke-width="1.3" fill="none"/>
<path d="M375.66 159.54H381.26M375.66 161.64H381.26" stroke="#0000b0" stroke-width="1.3" fill="none"/>
<path d="M378.81 165.01H384.42M378.81 167.12H384.42" stroke="#0000b0" stroke-width="1.3" fill="none"/>
<path d="M381.97 162.91H387.57M381.97 165.01H387.57" stroke="#0000b0" stroke-width="1.3" fill="none"/>
<path d="M385.12 166.28H390.72M385.12 167.96H390.72" stroke="#0000b0" stroke-width="1.3" fill="none"/>
<path d="M391.42 169.22H397.02M391.42 170.49H397.02" stroke="#0000b0" stroke-width="1.3" fill="none"/>
<path d="M397.73 172.38H403.33M397.73 173.64H403.33" stroke="#0000b0" stroke-width="1.3" fill="none"/>
<path d="M410.34 174.27H415.94M410.34 175.12H415.94" stroke="#0000b0" stroke-width="1.3" fill="none"/>
<path d="M435.56 176.8H441.16M435.56 177.22H441.16" stroke="#0000b0" stroke-width="1.3" fill="none"/>
<path d="M511.22 178.91H516.82M511.22 179.33H516.82" stroke="#0000b0" stroke-width="1.3" fill="none"/>
<path d="M586.88 179.54H592.48M586.88 179.96H592.48" stroke="#0000b0" stroke-width="1.3" fill="none"/>
<path d="M362.7 180.8 L364.28 180.17 L365.85 169.85 L367.43 143.33 L369 148.8 L372.16 148.8 L375.31 160.59 L378.46 160.59 L381.62 166.06 L384.77 163.96 L387.92 167.12 L394.22 169.85 L400.53 173.01 L413.14 174.7 L438.36 177.01 L514.02 179.12 L589.68 179.75 L640.12 180.17" stroke="#1010e0" stroke-width="1.4" fill="none" stroke-linejoin="round"/>
<path d="M362.7 178.4L365.1 180.8L362.7 183.2L360.3 180.8Z" fill="#0000e0"/>
<path d="M364.28 177.77L366.68 180.17L364.28 182.57L361.88 180.17Z" fill="#0000e0"/>
<path d="M365.85 167.45L368.25 169.85L365.85 172.25L363.45 169.85Z" fill="#0000e0"/>
<path d="M367.43 140.93L369.83 143.33L367.43 145.73L365.03 143.33Z" fill="#0000e0"/>
<path d="M369 146.4L371.4 148.8L369 151.2L366.61 148.8Z" fill="#0000e0"/>
<path d="M372.16 146.4L374.56 148.8L372.16 151.2L369.76 148.8Z" fill="#0000e0"/>
<path d="M375.31 158.19L377.71 160.59L375.31 162.99L372.91 160.59Z" fill="#0000e0"/>
<path d="M378.46 158.19L380.86 160.59L378.46 162.99L376.06 160.59Z" fill="#0000e0"/>
<path d="M381.62 163.66L384.01 166.06L381.62 168.47L379.22 166.06Z" fill="#0000e0"/>
<path d="M384.77 161.56L387.17 163.96L384.77 166.36L382.37 163.96Z" fill="#0000e0"/>
<path d="M387.92 164.72L390.32 167.12L387.92 169.52L385.52 167.12Z" fill="#0000e0"/>
<path d="M394.22 167.45L396.62 169.85L394.22 172.25L391.82 169.85Z" fill="#0000e0"/>
<path d="M400.53 170.61L402.93 173.01L400.53 175.41L398.13 173.01Z" fill="#0000e0"/>
<path d="M413.14 172.3L415.54 174.7L413.14 177.1L410.74 174.7Z" fill="#0000e0"/>
<path d="M438.36 174.61L440.76 177.01L438.36 179.41L435.96 177.01Z" fill="#0000e0"/>
<path d="M514.02 176.72L516.42 179.12L514.02 181.52L511.62 179.12Z" fill="#0000e0"/>
<path d="M589.68 177.35L592.08 179.75L589.68 182.15L587.28 179.75Z" fill="#0000e0"/>
<text x="1.6" y="222.9" font-family="Liberation Serif, serif" font-weight="bold" font-size="16" fill="#000">c</text>
<line x1="38" y1="390.85" x2="40.8" y2="390.85" stroke="#000" stroke-width="1.3"/>
<text x="33.3" y="393.25" text-anchor="end" font-family="Liberation Sans, sans-serif" font-size="8.3" fill="#222">0</text>
<line x1="38" y1="368.2" x2="40.8" y2="368.2" stroke="#000" stroke-width="1.3"/>
<text x="33.3" y="370.6" text-anchor="end" font-family="Liberation Sans, sans-serif" font-size="8.3" fill="#222">5</text>
<line x1="38" y1="345.55" x2="40.8" y2="345.55" stroke="#000" stroke-width="1.3"/>
<text x="33.3" y="347.95" text-anchor="end" font-family="Liberation Sans, sans-serif" font-size="8.3" fill="#222">10</text>
<line x1="38" y1="322.9" x2="40.8" y2="322.9" stroke="#000" stroke-width="1.3"/>
<text x="33.3" y="325.3" text-anchor="end" font-family="Liberation Sans, sans-serif" font-size="8.3" fill="#222">15</text>
<line x1="38" y1="300.25" x2="40.8" y2="300.25" stroke="#000" stroke-width="1.3"/>
<text x="33.3" y="302.65" text-anchor="end" font-family="Liberation Sans, sans-serif" font-size="8.3" fill="#222">20</text>
<line x1="38" y1="277.6" x2="40.8" y2="277.6" stroke="#000" stroke-width="1.3"/>
<text x="33.3" y="280" text-anchor="end" font-family="Liberation Sans, sans-serif" font-size="8.3" fill="#222">25</text>
<line x1="38" y1="254.95" x2="40.8" y2="254.95" stroke="#000" stroke-width="1.3"/>
<text x="33.3" y="257.35" text-anchor="end" font-family="Liberation Sans, sans-serif" font-size="8.3" fill="#222">30</text>
<line x1="38" y1="232.3" x2="40.8" y2="232.3" stroke="#000" stroke-width="1.3"/>
<text x="33.3" y="234.7" text-anchor="end" font-family="Liberation Sans, sans-serif" font-size="8.3" fill="#222">35</text>
<line x1="40.8" y1="390.85" x2="40.8" y2="393.65" stroke="#000" stroke-width="1.3"/>
<text x="40.8" y="403.35" text-anchor="middle" font-family="Liberation Sans, sans-serif" font-size="8.3" fill="#222">0</text>
<line x1="52.84" y1="390.85" x2="52.84" y2="393.65" stroke="#000" stroke-width="1.3"/>
<text x="52.84" y="403.35" text-anchor="middle" font-family="Liberation Sans, sans-serif" font-size="8.3" fill="#222">2</text>
<line x1="64.88" y1="390.85" x2="64.88" y2="393.65" stroke="#000" stroke-width="1.3"/>
<text x="64.88" y="403.35" text-anchor="middle" font-family="Liberation Sans, sans-serif" font-size="8.3" fill="#222">4</text>
<line x1="76.92" y1="390.85" x2="76.92" y2="393.65" stroke="#000" stroke-width="1.3"/>
<text x="76.92" y="403.35" text-anchor="middle" font-family="Liberation Sans, sans-serif" font-size="8.3" fill="#222">6</text>
<line x1="88.96" y1="390.85" x2="88.96" y2="393.65" stroke="#000" stroke-width="1.3"/>
<text x="88.96" y="403.35" text-anchor="middle" font-family="Liberation Sans, sans-serif" font-size="8.3" fill="#222">8</text>
<line x1="101" y1="390.85" x2="101" y2="393.65" stroke="#000" stroke-width="1.3"/>
<text x="101" y="403.35" text-anchor="middle" font-family="Liberation Sans, sans-serif" font-size="8.3" fill="#222">10</text>
<line x1="113.04" y1="390.85" x2="113.04" y2="393.65" stroke="#000" stroke-width="1.3"/>
<text x="113.04" y="403.35" text-anchor="middle" font-family="Liberation Sans, sans-serif" font-size="8.3" fill="#222">12</text>
<line x1="125.08" y1="390.85" x2="125.08" y2="393.65" stroke="#000" stroke-width="1.3"/>
<text x="125.08" y="403.35" text-anchor="middle" font-family="Liberation Sans, sans-serif" font-size="8.3" fill="#222">14</text>
<line x1="137.12" y1="390.85" x2="137.12" y2="393.65" stroke="#000" stroke-width="1.3"/>
<text x="137.12" y="403.35" text-anchor="middle" font-family="Liberation Sans, sans-serif" font-size="8.3" fill="#222">16</text>
<line x1="149.16" y1="390.85" x2="149.16" y2="393.65" stroke="#000" stroke-width="1.3"/>
<text x="149.16" y="403.35" text-anchor="middle" font-family="Liberation Sans, sans-serif" font-size="8.3" fill="#222">18</text>
<line x1="161.2" y1="390.85" x2="161.2" y2="393.65" stroke="#000" stroke-width="1.3"/>
<text x="161.2" y="403.35" text-anchor="middle" font-family="Liberation Sans, sans-serif" font-size="8.3" fill="#222">20</text>
<line x1="173.24" y1="390.85" x2="173.24" y2="393.65" stroke="#000" stroke-width="1.3"/>
<text x="173.24" y="403.35" text-anchor="middle" font-family="Liberation Sans, sans-serif" font-size="8.3" fill="#222">22</text>
<line x1="185.28" y1="390.85" x2="185.28" y2="393.65" stroke="#000" stroke-width="1.3"/>
<text x="185.28" y="403.35" text-anchor="middle" font-family="Liberation Sans, sans-serif" font-size="8.3" fill="#222">24</text>
<line x1="197.32" y1="390.85" x2="197.32" y2="393.65" stroke="#000" stroke-width="1.3"/>
<text x="197.32" y="403.35" text-anchor="middle" font-family="Liberation Sans, sans-serif" font-size="8.3" fill="#222">26</text>
<line x1="209.36" y1="390.85" x2="209.36" y2="393.65" stroke="#000" stroke-width="1.3"/>
<text x="209.36" y="403.35" text-anchor="middle" font-family="Liberation Sans, sans-serif" font-size="8.3" fill="#222">28</text>
<line x1="221.4" y1="390.85" x2="221.4" y2="393.65" stroke="#000" stroke-width="1.3"/>
<text x="221.4" y="403.35" text-anchor="middle" font-family="Liberation Sans, sans-serif" font-size="8.3" fill="#222">30</text>
<line x1="233.44" y1="390.85" x2="233.44" y2="393.65" stroke="#000" stroke-width="1.3"/>
<text x="233.44" y="403.35" text-anchor="middle" font-family="Liberation Sans, sans-serif" font-size="8.3" fill="#222">32</text>
<line x1="245.48" y1="390.85" x2="245.48" y2="393.65" stroke="#000" stroke-width="1.3"/>
<text x="245.48" y="403.35" text-anchor="middle" font-family="Liberation Sans, sans-serif" font-size="8.3" fill="#222">34</text>
<line x1="257.52" y1="390.85" x2="257.52" y2="393.65" stroke="#000" stroke-width="1.3"/>
<text x="257.52" y="403.35" text-anchor="middle" font-family="Liberation Sans, sans-serif" font-size="8.3" fill="#222">36</text>
<line x1="269.56" y1="390.85" x2="269.56" y2="393.65" stroke="#000" stroke-width="1.3"/>
<text x="269.56" y="403.35" text-anchor="middle" font-family="Liberation Sans, sans-serif" font-size="8.3" fill="#222">38</text>
<line x1="281.6" y1="390.85" x2="281.6" y2="393.65" stroke="#000" stroke-width="1.3"/>
<text x="281.6" y="403.35" text-anchor="middle" font-family="Liberation Sans, sans-serif" font-size="8.3" fill="#222">40</text>
<line x1="293.64" y1="390.85" x2="293.64" y2="393.65" stroke="#000" stroke-width="1.3"/>
<text x="293.64" y="403.35" text-anchor="middle" font-family="Liberation Sans, sans-serif" font-size="8.3" fill="#222">42</text>
<line x1="305.68" y1="390.85" x2="305.68" y2="393.65" stroke="#000" stroke-width="1.3"/>
<text x="305.68" y="403.35" text-anchor="middle" font-family="Liberation Sans, sans-serif" font-size="8.3" fill="#222">44</text>
<text transform="translate(20.5,311.58) rotate(-90)" text-anchor="middle" font-family="Liberation Sans, sans-serif" font-size="9.95" fill="#111">Atorvastatina ng/mL</text>
<text transform="translate(175.7,420.25) scale(1.14,1)" text-anchor="middle" font-family="Liberation Sans, sans-serif" font-size="9.3" fill="#111">t (h)</text>
<path d="M40.8 232.3V390.85H305.68" stroke="#000" stroke-width="1.7" fill="none"/>
<path d="M39.51 373.18H45.1M39.51 375.9H45.1" stroke="#b89400" stroke-width="1.3" fill="none"/>
<path d="M41.01 296.63H46.61M41.01 303.87H46.61" stroke="#b89400" stroke-width="1.3" fill="none"/>
<path d="M42.52 247.7H48.11M42.52 254.04H48.11" stroke="#b89400" stroke-width="1.3" fill="none"/>
<path d="M44.02 278.51H49.62M44.02 283.04H49.62" stroke="#b89400" stroke-width="1.3" fill="none"/>
<path d="M47.03 275.79H52.63M47.03 281.22H52.63" stroke="#b89400" stroke-width="1.3" fill="none"/>
<path d="M50.04 270.81H55.64M50.04 276.24H55.64" stroke="#b89400" stroke-width="1.3" fill="none"/>
<path d="M53.05 296.63H58.65M53.05 302.06H58.65" stroke="#b89400" stroke-width="1.3" fill="none"/>
<path d="M56.06 302.06H61.66M56.06 307.5H61.66" stroke="#b89400" stroke-width="1.3" fill="none"/>
<path d="M59.07 326.98H64.67M59.07 331.51H64.67" stroke="#b89400" stroke-width="1.3" fill="none"/>
<path d="M62.08 336.04H67.68M62.08 339.66H67.68" stroke="#b89400" stroke-width="1.3" fill="none"/>
<path d="M68.1 341.93H73.7M68.1 345.55H73.7" stroke="#b89400" stroke-width="1.3" fill="none"/>
<path d="M74.12 352.35H79.72M74.12 355.06H79.72" stroke="#b89400" stroke-width="1.3" fill="none"/>
<path d="M86.16 365.03H91.76M86.16 367.75H91.76" stroke="#b89400" stroke-width="1.3" fill="none"/>
<path d="M110.24 373.18H115.84M110.24 375H115.84" stroke="#b89400" stroke-width="1.3" fill="none"/>
<path d="M182.48 384.96H188.08M182.48 385.87H188.08" stroke="#b89400" stroke-width="1.3" fill="none"/>
<path d="M254.72 387.68H260.32M254.72 388.59H260.32" stroke="#b89400" stroke-width="1.3" fill="none"/>
<path d="M40.8 390.85 L42.3 374.54 L43.81 300.25 L45.31 250.87 L46.82 280.77 L49.83 278.51 L52.84 273.52 L55.85 299.34 L58.86 304.78 L61.87 329.24 L64.88 337.85 L70.9 343.74 L76.92 353.7 L88.96 366.39 L113.04 374.09 L185.28 385.41 L257.52 388.13 L305.68 388.59" stroke="#ffe010" stroke-width="1.4" fill="none" stroke-linejoin="round"/>
<rect x="38.8" y="388.95" width="4" height="3.8" fill="#f2cc10" stroke="#b88c00" stroke-width="0.5"/>
<rect x="40.3" y="372.64" width="4" height="3.8" fill="#f2cc10" stroke="#b88c00" stroke-width="0.5"/>
<rect x="41.81" y="298.35" width="4" height="3.8" fill="#f2cc10" stroke="#b88c00" stroke-width="0.5"/>
<rect x="43.31" y="248.97" width="4" height="3.8" fill="#f2cc10" stroke="#b88c00" stroke-width="0.5"/>
<rect x="44.82" y="278.87" width="4" height="3.8" fill="#f2cc10" stroke="#b88c00" stroke-width="0.5"/>
<rect x="47.83" y="276.61" width="4" height="3.8" fill="#f2cc10" stroke="#b88c00" stroke-width="0.5"/>
<rect x="50.84" y="271.62" width="4" height="3.8" fill="#f2cc10" stroke="#b88c00" stroke-width="0.5"/>
<rect x="53.85" y="297.44" width="4" height="3.8" fill="#f2cc10" stroke="#b88c00" stroke-width="0.5"/>
<rect x="56.86" y="302.88" width="4" height="3.8" fill="#f2cc10" stroke="#b88c00" stroke-width="0.5"/>
<rect x="59.87" y="327.34" width="4" height="3.8" fill="#f2cc10" stroke="#b88c00" stroke-width="0.5"/>
<rect x="62.88" y="335.95" width="4" height="3.8" fill="#f2cc10" stroke="#b88c00" stroke-width="0.5"/>
<rect x="68.9" y="341.84" width="4" height="3.8" fill="#f2cc10" stroke="#b88c00" stroke-width="0.5"/>
<rect x="74.92" y="351.8" width="4" height="3.8" fill="#f2cc10" stroke="#b88c00" stroke-width="0.5"/>
<rect x="86.96" y="364.49" width="4" height="3.8" fill="#f2cc10" stroke="#b88c00" stroke-width="0.5"/>
<rect x="111.04" y="372.19" width="4" height="3.8" fill="#f2cc10" stroke="#b88c00" stroke-width="0.5"/>
<rect x="183.28" y="383.51" width="4" height="3.8" fill="#f2cc10" stroke="#b88c00" stroke-width="0.5"/>
<rect x="255.52" y="386.23" width="4" height="3.8" fill="#f2cc10" stroke="#b88c00" stroke-width="0.5"/>
<path d="M39.51 377.26H45.1M39.51 381.79H45.1" stroke="#0000b0" stroke-width="1.3" fill="none"/>
<path d="M41.01 367.29H46.61M41.01 371.82H46.61" stroke="#0000b0" stroke-width="1.3" fill="none"/>
<path d="M42.52 283.04H48.11M42.52 296.63H48.11" stroke="#0000b0" stroke-width="1.3" fill="none"/>
<path d="M44.02 259.03H49.62M44.02 270.81H49.62" stroke="#0000b0" stroke-width="1.3" fill="none"/>
<path d="M47.03 298.44H52.63M47.03 307.5H52.63" stroke="#0000b0" stroke-width="1.3" fill="none"/>
<path d="M50.04 307.95H55.64M50.04 320.64H55.64" stroke="#0000b0" stroke-width="1.3" fill="none"/>
<path d="M53.05 331.51H58.65M53.05 337.85H58.65" stroke="#0000b0" stroke-width="1.3" fill="none"/>
<path d="M56.06 310.22H61.66M56.06 321.09H61.66" stroke="#0000b0" stroke-width="1.3" fill="none"/>
<path d="M59.07 349.17H64.67M59.07 354.61H64.67" stroke="#0000b0" stroke-width="1.3" fill="none"/>
<path d="M62.08 347.81H67.68M62.08 352.35H67.68" stroke="#0000b0" stroke-width="1.3" fill="none"/>
<path d="M68.1 335.58H73.7M68.1 340.11H73.7" stroke="#0000b0" stroke-width="1.3" fill="none"/>
<path d="M74.12 355.52H79.72M74.12 359.14H79.72" stroke="#0000b0" stroke-width="1.3" fill="none"/>
<path d="M86.16 365.48H91.76M86.16 367.29H91.76" stroke="#0000b0" stroke-width="1.3" fill="none"/>
<path d="M110.24 373.18H115.84M110.24 375H115.84" stroke="#0000b0" stroke-width="1.3" fill="none"/>
<path d="M182.48 384.96H188.08M182.48 385.87H188.08" stroke="#0000b0" stroke-width="1.3" fill="none"/>
<path d="M254.72 387.68H260.32M254.72 388.59H260.32" stroke="#0000b0" stroke-width="1.3" fill="none"/>
<path d="M40.8 390.85 L42.3 379.53 L43.81 369.56 L45.31 289.83 L46.82 264.92 L49.83 302.97 L52.84 314.29 L55.85 334.68 L58.86 315.65 L61.87 351.89 L64.88 350.08 L70.9 337.85 L76.92 357.33 L88.96 366.39 L113.04 374.09 L185.28 385.41 L257.52 388.13 L305.68 388.59" stroke="#1010e0" stroke-width="1.4" fill="none" stroke-linejoin="round"/>
<rect x="38.9" y="388.95" width="3.8" height="3.8" fill="#0000e0"/>
<rect x="40.41" y="377.63" width="3.8" height="3.8" fill="#0000e0"/>
<rect x="41.91" y="367.66" width="3.8" height="3.8" fill="#0000e0"/>
<rect x="43.41" y="287.93" width="3.8" height="3.8" fill="#0000e0"/>
<rect x="44.92" y="263.02" width="3.8" height="3.8" fill="#0000e0"/>
<rect x="47.93" y="301.07" width="3.8" height="3.8" fill="#0000e0"/>
<rect x="50.94" y="312.39" width="3.8" height="3.8" fill="#0000e0"/>
<rect x="53.95" y="332.78" width="3.8" height="3.8" fill="#0000e0"/>
<rect x="56.96" y="313.75" width="3.8" height="3.8" fill="#0000e0"/>
<rect x="59.97" y="349.99" width="3.8" height="3.8" fill="#0000e0"/>
<rect x="62.98" y="348.18" width="3.8" height="3.8" fill="#0000e0"/>
<rect x="69" y="335.95" width="3.8" height="3.8" fill="#0000e0"/>
<rect x="75.02" y="355.43" width="3.8" height="3.8" fill="#0000e0"/>
<rect x="87.06" y="364.49" width="3.8" height="3.8" fill="#0000e0"/>
<rect x="111.14" y="372.19" width="3.8" height="3.8" fill="#0000e0"/>
<rect x="183.38" y="383.51" width="3.8" height="3.8" fill="#0000e0"/>
<rect x="255.62" y="386.23" width="3.8" height="3.8" fill="#0000e0"/>
<text x="322.1" y="223.0" font-family="Liberation Serif, serif" font-weight="bold" font-size="16" fill="#000">d</text>
<line x1="359.9" y1="390.85" x2="362.7" y2="390.85" stroke="#000" stroke-width="1.3"/>
<text x="355.2" y="393.25" text-anchor="end" font-family="Liberation Sans, sans-serif" font-size="8.3" fill="#222">0</text>
<line x1="359.9" y1="376.5" x2="362.7" y2="376.5" stroke="#000" stroke-width="1.3"/>
<text x="355.2" y="378.9" text-anchor="end" font-family="Liberation Sans, sans-serif" font-size="8.3" fill="#222">5</text>
<line x1="359.9" y1="362.16" x2="362.7" y2="362.16" stroke="#000" stroke-width="1.3"/>
<text x="355.2" y="364.56" text-anchor="end" font-family="Liberation Sans, sans-serif" font-size="8.3" fill="#222">10</text>
<line x1="359.9" y1="347.81" x2="362.7" y2="347.81" stroke="#000" stroke-width="1.3"/>
<text x="355.2" y="350.21" text-anchor="end" font-family="Liberation Sans, sans-serif" font-size="8.3" fill="#222">15</text>
<line x1="359.9" y1="333.47" x2="362.7" y2="333.47" stroke="#000" stroke-width="1.3"/>
<text x="355.2" y="335.87" text-anchor="end" font-family="Liberation Sans, sans-serif" font-size="8.3" fill="#222">20</text>
<line x1="359.9" y1="319.12" x2="362.7" y2="319.12" stroke="#000" stroke-width="1.3"/>
<text x="355.2" y="321.52" text-anchor="end" font-family="Liberation Sans, sans-serif" font-size="8.3" fill="#222">25</text>
<line x1="359.9" y1="304.78" x2="362.7" y2="304.78" stroke="#000" stroke-width="1.3"/>
<text x="355.2" y="307.18" text-anchor="end" font-family="Liberation Sans, sans-serif" font-size="8.3" fill="#222">30</text>
<line x1="359.9" y1="290.44" x2="362.7" y2="290.44" stroke="#000" stroke-width="1.3"/>
<text x="355.2" y="292.83" text-anchor="end" font-family="Liberation Sans, sans-serif" font-size="8.3" fill="#222">35</text>
<line x1="359.9" y1="276.09" x2="362.7" y2="276.09" stroke="#000" stroke-width="1.3"/>
<text x="355.2" y="278.49" text-anchor="end" font-family="Liberation Sans, sans-serif" font-size="8.3" fill="#222">40</text>
<line x1="359.9" y1="261.75" x2="362.7" y2="261.75" stroke="#000" stroke-width="1.3"/>
<text x="355.2" y="264.14" text-anchor="end" font-family="Liberation Sans, sans-serif" font-size="8.3" fill="#222">45</text>
<line x1="359.9" y1="247.4" x2="362.7" y2="247.4" stroke="#000" stroke-width="1.3"/>
<text x="355.2" y="249.8" text-anchor="end" font-family="Liberation Sans, sans-serif" font-size="8.3" fill="#222">50</text>
<line x1="359.9" y1="233.06" x2="362.7" y2="233.06" stroke="#000" stroke-width="1.3"/>
<text x="355.2" y="235.46" text-anchor="end" font-family="Liberation Sans, sans-serif" font-size="8.3" fill="#222">55</text>
<line x1="362.7" y1="390.85" x2="362.7" y2="393.65" stroke="#000" stroke-width="1.3"/>
<text x="362.7" y="403.35" text-anchor="middle" font-family="Liberation Sans, sans-serif" font-size="8.3" fill="#222">0</text>
<line x1="375.31" y1="390.85" x2="375.31" y2="393.65" stroke="#000" stroke-width="1.3"/>
<text x="375.31" y="403.35" text-anchor="middle" font-family="Liberation Sans, sans-serif" font-size="8.3" fill="#222">2</text>
<line x1="387.92" y1="390.85" x2="387.92" y2="393.65" stroke="#000" stroke-width="1.3"/>
<text x="387.92" y="403.35" text-anchor="middle" font-family="Liberation Sans, sans-serif" font-size="8.3" fill="#222">4</text>
<line x1="400.53" y1="390.85" x2="400.53" y2="393.65" stroke="#000" stroke-width="1.3"/>
<text x="400.53" y="403.35" text-anchor="middle" font-family="Liberation Sans, sans-serif" font-size="8.3" fill="#222">6</text>
<line x1="413.14" y1="390.85" x2="413.14" y2="393.65" stroke="#000" stroke-width="1.3"/>
<text x="413.14" y="403.35" text-anchor="middle" font-family="Liberation Sans, sans-serif" font-size="8.3" fill="#222">8</text>
<line x1="425.75" y1="390.85" x2="425.75" y2="393.65" stroke="#000" stroke-width="1.3"/>
<text x="425.75" y="403.35" text-anchor="middle" font-family="Liberation Sans, sans-serif" font-size="8.3" fill="#222">10</text>
<line x1="438.36" y1="390.85" x2="438.36" y2="393.65" stroke="#000" stroke-width="1.3"/>
<text x="438.36" y="403.35" text-anchor="middle" font-family="Liberation Sans, sans-serif" font-size="8.3" fill="#222">12</text>
<line x1="450.97" y1="390.85" x2="450.97" y2="393.65" stroke="#000" stroke-width="1.3"/>
<text x="450.97" y="403.35" text-anchor="middle" font-family="Liberation Sans, sans-serif" font-size="8.3" fill="#222">14</text>
<line x1="463.58" y1="390.85" x2="463.58" y2="393.65" stroke="#000" stroke-width="1.3"/>
<text x="463.58" y="403.35" text-anchor="middle" font-family="Liberation Sans, sans-serif" font-size="8.3" fill="#222">16</text>
<line x1="476.19" y1="390.85" x2="476.19" y2="393.65" stroke="#000" stroke-width="1.3"/>
<text x="476.19" y="403.35" text-anchor="middle" font-family="Liberation Sans, sans-serif" font-size="8.3" fill="#222">18</text>
<line x1="488.8" y1="390.85" x2="488.8" y2="393.65" stroke="#000" stroke-width="1.3"/>
<text x="488.8" y="403.35" text-anchor="middle" font-family="Liberation Sans, sans-serif" font-size="8.3" fill="#222">20</text>
<line x1="501.41" y1="390.85" x2="501.41" y2="393.65" stroke="#000" stroke-width="1.3"/>
<text x="501.41" y="403.35" text-anchor="middle" font-family="Liberation Sans, sans-serif" font-size="8.3" fill="#222">22</text>
<line x1="514.02" y1="390.85" x2="514.02" y2="393.65" stroke="#000" stroke-width="1.3"/>
<text x="514.02" y="403.35" text-anchor="middle" font-family="Liberation Sans, sans-serif" font-size="8.3" fill="#222">24</text>
<line x1="526.63" y1="390.85" x2="526.63" y2="393.65" stroke="#000" stroke-width="1.3"/>
<text x="526.63" y="403.35" text-anchor="middle" font-family="Liberation Sans, sans-serif" font-size="8.3" fill="#222">26</text>
<line x1="539.24" y1="390.85" x2="539.24" y2="393.65" stroke="#000" stroke-width="1.3"/>
<text x="539.24" y="403.35" text-anchor="middle" font-family="Liberation Sans, sans-serif" font-size="8.3" fill="#222">28</text>
<line x1="551.85" y1="390.85" x2="551.85" y2="393.65" stroke="#000" stroke-width="1.3"/>
<text x="551.85" y="403.35" text-anchor="middle" font-family="Liberation Sans, sans-serif" font-size="8.3" fill="#222">30</text>
<line x1="564.46" y1="390.85" x2="564.46" y2="393.65" stroke="#000" stroke-width="1.3"/>
<text x="564.46" y="403.35" text-anchor="middle" font-family="Liberation Sans, sans-serif" font-size="8.3" fill="#222">32</text>
<line x1="577.07" y1="390.85" x2="577.07" y2="393.65" stroke="#000" stroke-width="1.3"/>
<text x="577.07" y="403.35" text-anchor="middle" font-family="Liberation Sans, sans-serif" font-size="8.3" fill="#222">34</text>
<line x1="589.68" y1="390.85" x2="589.68" y2="393.65" stroke="#000" stroke-width="1.3"/>
<text x="589.68" y="403.35" text-anchor="middle" font-family="Liberation Sans, sans-serif" font-size="8.3" fill="#222">36</text>
<line x1="602.29" y1="390.85" x2="602.29" y2="393.65" stroke="#000" stroke-width="1.3"/>
<text x="602.29" y="403.35" text-anchor="middle" font-family="Liberation Sans, sans-serif" font-size="8.3" fill="#222">38</text>
<line x1="614.9" y1="390.85" x2="614.9" y2="393.65" stroke="#000" stroke-width="1.3"/>
<text x="614.9" y="403.35" text-anchor="middle" font-family="Liberation Sans, sans-serif" font-size="8.3" fill="#222">40</text>
<line x1="627.51" y1="390.85" x2="627.51" y2="393.65" stroke="#000" stroke-width="1.3"/>
<text x="627.51" y="403.35" text-anchor="middle" font-family="Liberation Sans, sans-serif" font-size="8.3" fill="#222">42</text>
<line x1="640.12" y1="390.85" x2="640.12" y2="393.65" stroke="#000" stroke-width="1.3"/>
<text x="640.12" y="403.35" text-anchor="middle" font-family="Liberation Sans, sans-serif" font-size="8.3" fill="#222">44</text>
<text transform="translate(341.3,311.95) rotate(-90)" text-anchor="middle" font-family="Liberation Sans, sans-serif" font-size="9.95" fill="#111">Atorvastatina ng/mL</text>
<text transform="translate(504,420.25) scale(1.14,1)" text-anchor="middle" font-family="Liberation Sans, sans-serif" font-size="9.3" fill="#111">t (h)</text>
<path d="M362.7 233.06V390.85H640.12" stroke="#000" stroke-width="1.7" fill="none"/>
<path d="M361.48 380.52H367.08M361.48 382.82H367.08" stroke="#0000b0" stroke-width="1.3" fill="none"/>
<path d="M363.05 349.54H368.65M363.05 353.55H368.65" stroke="#0000b0" stroke-width="1.3" fill="none"/>
<path d="M364.63 311.95H370.23M364.63 317.69H370.23" stroke="#0000b0" stroke-width="1.3" fill="none"/>
<path d="M366.2 309.94H371.81M366.2 315.68H371.81" stroke="#0000b0" stroke-width="1.3" fill="none"/>
<path d="M369.36 325.72H374.96M369.36 329.74H374.96" stroke="#0000b0" stroke-width="1.3" fill="none"/>
<path d="M372.51 325.72H378.11M372.51 329.74H378.11" stroke="#0000b0" stroke-width="1.3" fill="none"/>
<path d="M375.66 339.21H381.26M375.66 343.22H381.26" stroke="#0000b0" stroke-width="1.3" fill="none"/>
<path d="M378.81 338.92H384.42M378.81 342.94H384.42" stroke="#0000b0" stroke-width="1.3" fill="none"/>
<path d="M381.97 355.27H387.57M381.97 358.14H387.57" stroke="#0000b0" stroke-width="1.3" fill="none"/>
<path d="M385.12 357.28H390.72M385.12 360.15H390.72" stroke="#0000b0" stroke-width="1.3" fill="none"/>
<path d="M391.42 362.16H397.02M391.42 364.46H397.02" stroke="#0000b0" stroke-width="1.3" fill="none"/>
<path d="M397.73 368.18H403.33M397.73 370.48H403.33" stroke="#0000b0" stroke-width="1.3" fill="none"/>
<path d="M410.34 375.93H415.94M410.34 377.65H415.94" stroke="#0000b0" stroke-width="1.3" fill="none"/>
<path d="M435.56 381.38H441.16M435.56 382.53H441.16" stroke="#0000b0" stroke-width="1.3" fill="none"/>
<path d="M511.22 387.41H516.82M511.22 387.98H516.82" stroke="#0000b0" stroke-width="1.3" fill="none"/>
<path d="M586.88 388.84H592.48M586.88 389.42H592.48" stroke="#0000b0" stroke-width="1.3" fill="none"/>
<path d="M362.7 390.85 L364.28 381.67 L365.85 351.54 L367.43 314.82 L369 312.81 L372.16 327.73 L375.31 327.73 L378.46 341.22 L381.62 340.93 L384.77 356.71 L387.92 358.72 L394.22 363.31 L400.53 369.33 L413.14 376.79 L438.36 381.96 L514.02 387.69 L589.68 389.13 L640.12 389.7" stroke="#1010e0" stroke-width="1.4" fill="none" stroke-linejoin="round"/>
<ellipse cx="362.7" cy="390.85" rx="2.2" ry="1.9" fill="#0000e0"/>
<ellipse cx="364.28" cy="381.67" rx="2.2" ry="1.9" fill="#0000e0"/>
<ellipse cx="365.85" cy="351.54" rx="2.2" ry="1.9" fill="#0000e0"/>
<ellipse cx="367.43" cy="314.82" rx="2.2" ry="1.9" fill="#0000e0"/>
<ellipse cx="369" cy="312.81" rx="2.2" ry="1.9" fill="#0000e0"/>
<ellipse cx="372.16" cy="327.73" rx="2.2" ry="1.9" fill="#0000e0"/>
<ellipse cx="375.31" cy="327.73" rx="2.2" ry="1.9" fill="#0000e0"/>
<ellipse cx="378.46" cy="341.22" rx="2.2" ry="1.9" fill="#0000e0"/>
<ellipse cx="381.62" cy="340.93" rx="2.2" ry="1.9" fill="#0000e0"/>
<ellipse cx="384.77" cy="356.71" rx="2.2" ry="1.9" fill="#0000e0"/>
<ellipse cx="387.92" cy="358.72" rx="2.2" ry="1.9" fill="#0000e0"/>
<ellipse cx="394.22" cy="363.31" rx="2.2" ry="1.9" fill="#0000e0"/>
<ellipse cx="400.53" cy="369.33" rx="2.2" ry="1.9" fill="#0000e0"/>
<ellipse cx="413.14" cy="376.79" rx="2.2" ry="1.9" fill="#0000e0"/>
<ellipse cx="438.36" cy="381.96" rx="2.2" ry="1.9" fill="#0000e0"/>
<ellipse cx="514.02" cy="387.69" rx="2.2" ry="1.9" fill="#0000e0"/>
<ellipse cx="589.68" cy="389.13" rx="2.2" ry="1.9" fill="#0000e0"/>
<path d="M361.48 376.79H367.08M361.48 380.23H367.08" stroke="#b89400" stroke-width="1.3" fill="none"/>
<path d="M363.05 312.24H368.65M363.05 328.88H368.65" stroke="#b89400" stroke-width="1.3" fill="none"/>
<path d="M364.63 263.18H370.23M364.63 279.82H370.23" stroke="#b89400" stroke-width="1.3" fill="none"/>
<path d="M366.2 245.68H371.81M366.2 262.32H371.81" stroke="#b89400" stroke-width="1.3" fill="none"/>
<path d="M369.36 292.44H374.96M369.36 306.79H374.96" stroke="#b89400" stroke-width="1.3" fill="none"/>
<path d="M372.51 295.31H378.11M372.51 306.79H378.11" stroke="#b89400" stroke-width="1.3" fill="none"/>
<path d="M375.66 315.97H381.26M375.66 324.58H381.26" stroke="#b89400" stroke-width="1.3" fill="none"/>
<path d="M378.81 329.74H384.42M378.81 337.77H384.42" stroke="#b89400" stroke-width="1.3" fill="none"/>
<path d="M381.97 341.5H387.57M381.97 348.96H387.57" stroke="#b89400" stroke-width="1.3" fill="none"/>
<path d="M385.12 348.39H390.72M385.12 355.27H390.72" stroke="#b89400" stroke-width="1.3" fill="none"/>
<path d="M391.42 341.22H397.02M391.42 349.25H397.02" stroke="#b89400" stroke-width="1.3" fill="none"/>
<path d="M397.73 352.98H403.33M397.73 358.14H403.33" stroke="#b89400" stroke-width="1.3" fill="none"/>
<path d="M410.34 366.46H415.94M410.34 369.91H415.94" stroke="#b89400" stroke-width="1.3" fill="none"/>
<path d="M435.56 373.64H441.16M435.56 375.93H441.16" stroke="#b89400" stroke-width="1.3" fill="none"/>
<path d="M511.22 385.97H516.82M511.22 387.12H516.82" stroke="#b89400" stroke-width="1.3" fill="none"/>
<path d="M586.88 387.98H592.48M586.88 389.13H592.48" stroke="#b89400" stroke-width="1.3" fill="none"/>
<path d="M362.7 390.85 L364.28 378.51 L365.85 320.56 L367.43 271.5 L369 254 L372.16 299.62 L375.31 301.05 L378.46 320.27 L381.62 333.76 L384.77 345.23 L387.92 351.83 L394.22 345.23 L400.53 355.56 L413.14 368.18 L438.36 374.78 L514.02 386.55 L589.68 388.55 L640.12 389.13" stroke="#ffe010" stroke-width="1.4" fill="none" stroke-linejoin="round"/>
<rect x="360.7" y="388.95" width="4" height="3.8" fill="#f2cc10" stroke="#b88c00" stroke-width="0.5"/>
<rect x="362.28" y="376.61" width="4" height="3.8" fill="#f2cc10" stroke="#b88c00" stroke-width="0.5"/>
<rect x="363.85" y="318.66" width="4" height="3.8" fill="#f2cc10" stroke="#b88c00" stroke-width="0.5"/>
<rect x="365.43" y="269.6" width="4" height="3.8" fill="#f2cc10" stroke="#b88c00" stroke-width="0.5"/>
<rect x="367" y="252.1" width="4" height="3.8" fill="#f2cc10" stroke="#b88c00" stroke-width="0.5"/>
<rect x="370.16" y="297.72" width="4" height="3.8" fill="#f2cc10" stroke="#b88c00" stroke-width="0.5"/>
<rect x="373.31" y="299.15" width="4" height="3.8" fill="#f2cc10" stroke="#b88c00" stroke-width="0.5"/>
<rect x="376.46" y="318.37" width="4" height="3.8" fill="#f2cc10" stroke="#b88c00" stroke-width="0.5"/>
<rect x="379.62" y="331.86" width="4" height="3.8" fill="#f2cc10" stroke="#b88c00" stroke-width="0.5"/>
<rect x="382.77" y="343.33" width="4" height="3.8" fill="#f2cc10" stroke="#b88c00" stroke-width="0.5"/>
<rect x="385.92" y="349.93" width="4" height="3.8" fill="#f2cc10" stroke="#b88c00" stroke-width="0.5"/>
<rect x="392.22" y="343.33" width="4" height="3.8" fill="#f2cc10" stroke="#b88c00" stroke-width="0.5"/>
<rect x="398.53" y="353.66" width="4" height="3.8" fill="#f2cc10" stroke="#b88c00" stroke-width="0.5"/>
<rect x="411.14" y="366.28" width="4" height="3.8" fill="#f2cc10" stroke="#b88c00" stroke-width="0.5"/>
<rect x="436.36" y="372.88" width="4" height="3.8" fill="#f2cc10" stroke="#b88c00" stroke-width="0.5"/>
<rect x="512.02" y="384.65" width="4" height="3.8" fill="#f2cc10" stroke="#b88c00" stroke-width="0.5"/>
<rect x="587.68" y="386.65" width="4" height="3.8" fill="#f2cc10" stroke="#b88c00" stroke-width="0.5"/>
</svg>
</body></html>
